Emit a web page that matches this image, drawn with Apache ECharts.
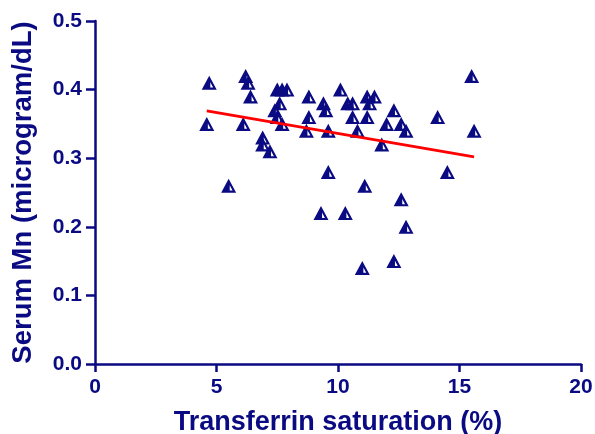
<!DOCTYPE html>
<html>
<head>
<meta charset="utf-8">
<script src="https://cdn.jsdelivr.net/npm/echarts@6/dist/echarts.min.js"></script>
<style>
html,body{margin:0;padding:0;background:#fff;}
#chart{width:595px;height:434px;}
</style>
</head>
<body>
<div id="chart"></div>
<script>
// Transferrin saturation (%)
const xValues = [4.7, 4.6, 5.5, 6.2, 6.3, 6.4, 6.1, 6.9, 6.9, 7.2,
  7.5, 7.7, 7.9, 7.6, 7.4, 7.5, 7.7, 8.8, 8.8, 8.7,
  9.4, 9.5, 9.6, 10.1, 10.4, 10.6, 10.6, 10.8, 11.2, 11.5,
  11.3, 11.2, 12.3, 12.0, 12.6, 12.8, 11.8, 14.1, 15.5, 15.6,
  14.5, 9.6, 11.1, 12.6, 9.3, 10.3, 12.8, 12.3, 11.0];
// Serum Mn (microgram/dL)
const yValues = [0.41, 0.35, 0.26, 0.42, 0.41, 0.39, 0.35, 0.33, 0.32, 0.31,
  0.40, 0.40, 0.40, 0.38, 0.37, 0.36, 0.35, 0.39, 0.36, 0.34,
  0.38, 0.37, 0.34, 0.40, 0.38, 0.38, 0.36, 0.34, 0.39, 0.39,
  0.38, 0.36, 0.37, 0.35, 0.35, 0.34, 0.32, 0.36, 0.42, 0.34,
  0.28, 0.28, 0.26, 0.24, 0.22, 0.22, 0.20, 0.15, 0.14];
// Regression line end points
const fitX = [4.6, 15.6];
const fitY = [0.369, 0.302];
// Axis ranges / ticks
const xMin = 0, xMax = 20, xStep = 5;
const yMin = 0, yMax = 0.5, yStep = 0.1;

const navy = '#0a0a82';
const font = 'Liberation Sans, Arial, sans-serif';
const tri = 'path://M0,26 L14,0 L28,26 Z M16,12.15 L16,22 L21.3,22 Z';

const chart = echarts.init(document.getElementById('chart'), null, {renderer: 'canvas'});
const pts = xValues.map((x, i) => [x, yValues[i]]);
const fit = fitX.map((x, i) => [x, fitY[i]]);

chart.setOption({
  animation: false,
  backgroundColor: '#fff',
  grid: {left: 95, right: 14, top: 21, bottom: 70, containLabel: false, outerBoundsMode: 'none'},
  xAxis: {
    type: 'value', min: xMin, max: xMax, interval: xStep,
    name: 'Transferrin saturation (%)',
    nameLocation: 'middle', nameGap: 45,
    nameTextStyle: {color: navy, fontFamily: font, fontWeight: 'bold', fontSize: 27},
    axisLine: {show: true, lineStyle: {color: navy, width: 2.5}},
    axisTick: {show: true, length: 8, lineStyle: {color: navy, width: 2.5}},
    axisLabel: {color: navy, fontFamily: font, fontWeight: 'bold', fontSize: 21, margin: 13},
    splitLine: {show: false}
  },
  yAxis: {
    type: 'value', min: yMin, max: yMax, interval: yStep,
    name: 'Serum Mn (microgram/dL)',
    nameLocation: 'middle', nameGap: 58, nameRotate: 90,
    nameTextStyle: {color: navy, fontFamily: font, fontWeight: 'bold', fontSize: 27.5},
    axisLine: {show: true, lineStyle: {color: navy, width: 2.5}},
    axisTick: {show: true, length: 9, lineStyle: {color: navy, width: 2.5}},
    axisLabel: {color: navy, fontFamily: font, fontWeight: 'bold', fontSize: 21, margin: 13,
      formatter: v => v.toFixed(1)},
    splitLine: {show: false}
  },
  series: [
    {
      type: 'scatter', data: pts, symbol: tri, symbolSize: [15, 14],
      itemStyle: {color: navy, opacity: 1},
      emphasis: {disabled: true}, z: 2
    },
    {
      type: 'line', data: fit, symbol: 'none',
      lineStyle: {color: '#ff0000', width: 2.8},
      emphasis: {disabled: true}, z: 3
    }
  ]
});
</script>
</body>
</html>
